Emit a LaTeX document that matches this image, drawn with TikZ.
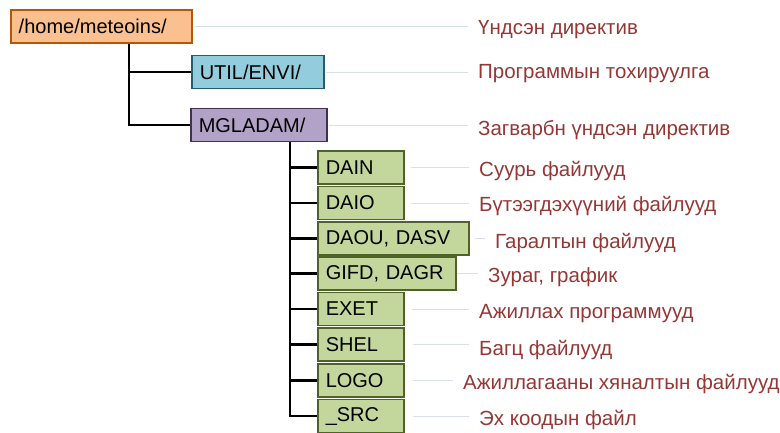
\documentclass[tikz,border=0pt]{standalone}
\usepackage{fontspec}
\setmainfont{Liberation Sans}
\usepackage{tikz}
\usetikzlibrary{calc}
\usetikzlibrary{positioning}

\definecolor{rootfill}{HTML}{FAC090}
\definecolor{rootdraw}{HTML}{B65708}
\definecolor{utilfill}{HTML}{93CDDD}
\definecolor{utildraw}{HTML}{245E6E}
\definecolor{modelfill}{HTML}{B3A2C7}
\definecolor{modeldraw}{HTML}{3F3151}
\definecolor{dirfill}{HTML}{C3D69B}
\definecolor{dirdraw}{HTML}{4F6228}
\definecolor{notered}{HTML}{953735}
\definecolor{guidecol}{HTML}{D6E0EE}

\begin{document}
\begin{tikzpicture}[x=1pt, y=-1pt,
        box/.style={draw, line width=1.5pt, anchor=west, minimum height=33pt, inner xsep=8pt,
            text width=#1, align=left, font=\fontsize{20}{24}\selectfont},
        note/.style={anchor=west, inner xsep=10pt, text=notered, font=\fontsize{20.5}{24}\selectfont},
        tree/.style={line width=2.5pt},
        guide/.style={draw=guidecol, line width=0.8pt}]
        \useasboundingbox (0,0) rectangle (780,432);

        % directories
        \node (r0) at (10,26.5) [box=165pt, fill=rootfill, draw=rootdraw] {/home/meteoins/};
        \node (u1) at (191,72) [box=116pt, fill=utilfill, draw=utildraw] {UTIL/ENVI/};
        \node (m1) at (190,125) [box=120pt, fill=modelfill, draw=modeldraw] {MGLADAM/};

        % subdirectories
        \node (d1) at (317,167.5) [box=70pt, fill=dirfill, draw=dirdraw] {DAIN};
        \node (d2) at (317,203) [box=70pt, fill=dirfill, draw=dirdraw] {DAIO};
        \node (d3) at (317,238.5) [box=135pt, fill=dirfill, draw=dirdraw] {DAOU, DASV};
        \node (d4) at (317,273.5) [box=122pt, fill=dirfill, draw=dirdraw] {GIFD, DAGR};
        \node (d5) at (317,309) [box=70pt, fill=dirfill, draw=dirdraw] {EXET};
        \node (d6) at (317,344.5) [box=70pt, fill=dirfill, draw=dirdraw] {SHEL};
        \node (d7) at (317,380.5) [box=70pt, fill=dirfill, draw=dirdraw] {LOGO};
        \node (d8) at (317,416) [box=70pt, fill=dirfill, draw=dirdraw] {\_SRC};

        % notes
        \node (n0) at (468,30) [note] {Үндсэн директив};
        \node (n1) at (468,74) [note] {Программын тохируулга};
        \node (n2) at (468,130) [note] {Загварбн үндсэн директив};
        \node (n3) at (469,171) [note] {Суурь файлууд};
        \node (n4) at (469,206) [note] {Бүтээгдэхүүний файлууд};
        \node (n5) at (485,243) [note] {Гаралтын файлууд};
        \node (n6) at (478,277) [note] {Зураг, график};
        \node (n7) at (469,314) [note] {Ажиллах программууд};
        \node (n8) at (469,350) [note] {Багц файлууд};
        \node (n9) at (453,384) [note] {Ажиллагааны хяналтын файлууд};
        \node (n10) at (469,420) [note] {Эх коодын файл};

        % branch points
        \coordinate (j0) at (129,0);
        \coordinate (j1) at (290,0);

        % tree
        \draw[tree] (j0 |- r0.south) |- (u1.west);
        \draw[tree] (j0 |- r0.south) |- (m1.west);
        \draw[tree] (j1 |- m1.south) |- (d1.west);
        \draw[tree] (j1 |- m1.south) |- (d2.west);
        \draw[tree] (j1 |- m1.south) |- (d3.west);
        \draw[tree] (j1 |- m1.south) |- (d4.west);
        \draw[tree] (j1 |- m1.south) |- (d5.west);
        \draw[tree] (j1 |- m1.south) |- (d6.west);
        \draw[tree] (j1 |- m1.south) |- (d7.west);
        \draw[tree] (j1 |- m1.south) |- (d8.west);

        % guides
        \draw[guide] ([xshift=2pt]r0.east) -- (r0.east -| n0.west);
        \draw[guide] ([xshift=1pt]u1.east) -- (u1.east -| n1.west);
        \draw[guide] ([xshift=1pt]m1.east) -- (m1.east -| n2.west);
        \draw[guide] ([xshift=6pt]d1.east) -- (d1.east -| n3.west);
        \draw[guide] ([xshift=6pt]d2.east) -- (d2.east -| n4.west);
        \draw[guide] ([xshift=5pt]d3.east) -- (d3.east -| n5.west);
        \draw[guide] (d4.east) -- (d4.east -| n6.west);
        \draw[guide] ([xshift=7pt]d5.east) -- (d5.east -| n7.west);
        \draw[guide] ([xshift=8pt]d6.east) -- (d6.east -| n8.west);
        \draw[guide] ([xshift=8pt]d7.east) -- (d7.east -| n9.west);
        \draw[guide] ([xshift=8pt]d8.east) -- (d8.east -| n10.west);
    \end{tikzpicture}
\end{document}
